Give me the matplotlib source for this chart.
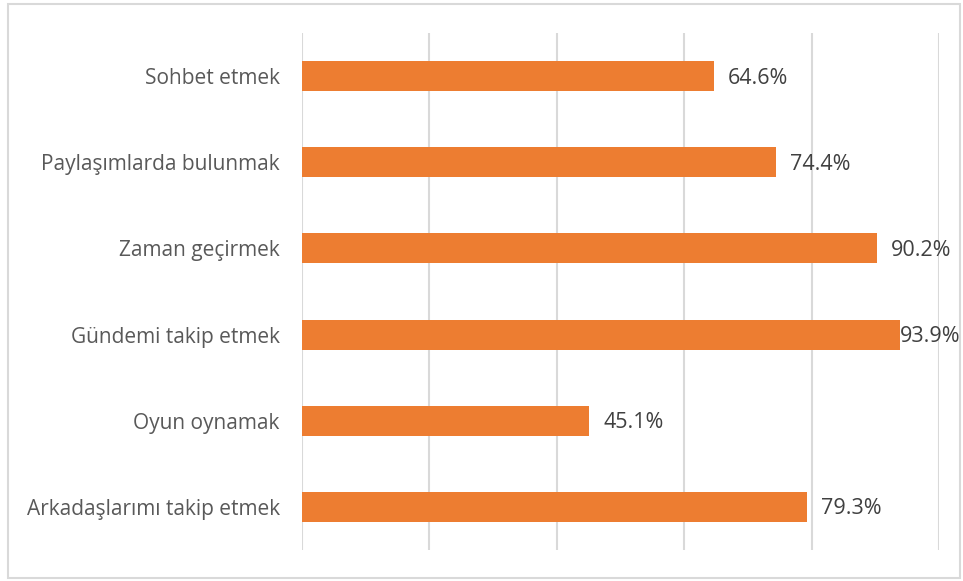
import matplotlib
matplotlib.use('Agg')
from matplotlib import pyplot as plt
from matplotlib.patches import Rectangle
import numpy as np

categories = ['Sohbet etmek', 'Paylaşımlarda bulunmak', 'Zaman geçirmek',
              'Gündemi takip etmek', 'Oyun oynamak', 'Arkadaşlarımı takip etmek']
values = [64.6, 74.4, 90.2, 93.9, 45.1, 79.3]
labels = ['64.6%', '74.4%', '90.2%', '93.9%', '45.1%', '79.3%']

plt.rcParams['font.family'] = ['Open Sans', 'DejaVu Sans']

W, H = 963, 581
fig = plt.figure(figsize=(W/100, H/100), dpi=100)
ax = fig.add_axes([302/W, 31/H, 637/W, 517/H])

y = np.arange(len(categories))
ax.barh(y, values, height=0.35, color='#ED7D31', zorder=3)
ax.set_ylim(len(categories) - 0.5, -0.5)
ax.set_xlim(0, 100)
ax.set_xticks(np.arange(0, 101, 20))
ax.xaxis.grid(True, color='#D9D9D9', linewidth=1.5, zorder=0)
ax.tick_params(axis='x', length=0, labelbottom=False)
ax.tick_params(axis='y', length=0, pad=16, labelsize=15, labelcolor='#595959')
ax.set_yticks(y)
ax.set_yticklabels(categories)
for s in ax.spines.values():
    s.set_visible(False)

for i, (v, lab) in enumerate(zip(values, labels)):
    off = 0 if v > 92 else 10
    ax.annotate(lab, (v, i), xytext=(off, -1.5), textcoords='offset points',
                va='center', ha='left', fontsize=15.5, color='#404040', zorder=4)

fig.patches.append(Rectangle((8/W, 3/H), 952/W, 574/H, transform=fig.transFigure,
                             fill=False, edgecolor='#D9D9D9', linewidth=1.5))

fig.savefig('out.png', dpi=100)
